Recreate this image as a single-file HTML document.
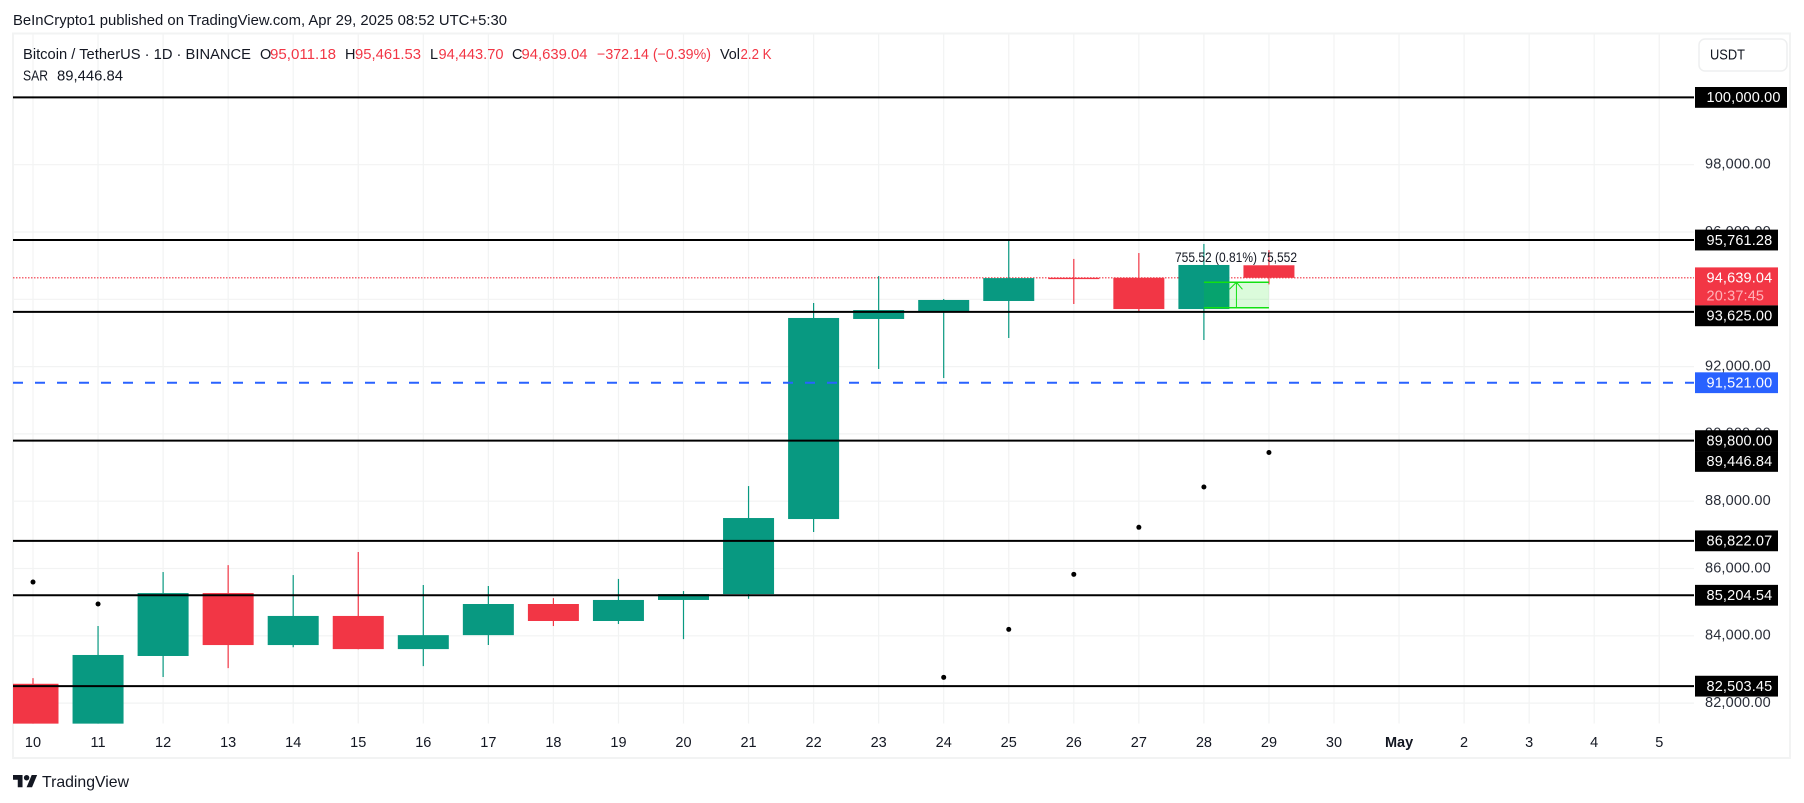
<!DOCTYPE html>
<html lang="en">
<head>
<meta charset="utf-8">
<title>Bitcoin / TetherUS chart</title>
<style>
html,body{margin:0;padding:0;background:#fff;width:1804px;height:803px;overflow:hidden}
svg{display:block;font-family:"Liberation Sans",sans-serif}
</style>
</head>
<body>
<svg id="chart" xmlns="http://www.w3.org/2000/svg" width="1804" height="803" viewBox="0 0 1804 803">
  <defs><clipPath id="plot-clip"><rect x="13" y="34" width="1681" height="689.6"/></clipPath></defs>
  <rect x="0" y="0" width="1804" height="803" fill="#ffffff"/>
  <rect x="13" y="33.5" width="1777" height="724.5" fill="none" stroke="#f2f3f3" stroke-width="2"/>
  <text x="13" y="25" font-size="14.5" fill="#131722" textLength="494" lengthAdjust="spacingAndGlyphs">BeInCrypto1 published on TradingView.com, Apr 29, 2025 08:52 UTC+5:30</text>
  <g id="grid"></g>
  <g id="price-ticks"></g>
  <g id="time-ticks"></g>
  <g clip-path="url(#plot-clip)">
    <g id="candles"></g>
    <g id="measure"></g>
    <g id="sar"></g>
    <g id="levels"></g>
  </g>
  <g id="price-labels"></g>
  <g font-size="14.5">
    <text x="23" y="59" fill="#131722" textLength="228" lengthAdjust="spacingAndGlyphs">Bitcoin / TetherUS · 1D · BINANCE</text>
    <text x="260" y="59" fill="#131722">O</text>
    <text x="270" y="59" fill="#f23645" textLength="66" lengthAdjust="spacingAndGlyphs">95,011.18</text>
    <text x="345" y="59" fill="#131722">H</text>
    <text x="355" y="59" fill="#f23645" textLength="66" lengthAdjust="spacingAndGlyphs">95,461.53</text>
    <text x="430" y="59" fill="#131722">L</text>
    <text x="438.5" y="59" fill="#f23645" textLength="65" lengthAdjust="spacingAndGlyphs">94,443.70</text>
    <text x="512" y="59" fill="#131722">C</text>
    <text x="521.5" y="59" fill="#f23645" textLength="66" lengthAdjust="spacingAndGlyphs">94,639.04</text>
    <text x="597" y="59" fill="#f23645" textLength="114" lengthAdjust="spacingAndGlyphs">−372.14 (−0.39%)</text>
    <text x="720" y="59" fill="#131722" textLength="20" lengthAdjust="spacingAndGlyphs">Vol</text>
    <text x="740.5" y="59" fill="#f23645" textLength="31" lengthAdjust="spacingAndGlyphs">2.2 K</text>
    <text x="23" y="80.5" fill="#131722" textLength="25" lengthAdjust="spacingAndGlyphs">SAR</text>
    <text x="57" y="80.5" fill="#131722" textLength="66" lengthAdjust="spacingAndGlyphs">89,446.84</text>
  </g>
  <g>
    <rect x="1699" y="39" width="88" height="32" rx="6" fill="#ffffff" stroke="#eeeff0" stroke-width="1.5"/>
    <text x="1710" y="59.5" font-size="14.5" fill="#131722" textLength="35" lengthAdjust="spacingAndGlyphs">USDT</text>
  </g>
  <g>
    <g transform="translate(13,775) scale(0.68)" fill="#131722">
      <path d="M14 18H7V7H0V0h14v18z"/><path d="M28 18h-8L27.5 0h8L28 18z"/><circle cx="20" cy="4" r="4"/>
    </g>
    <text x="42" y="787" font-size="16" fill="#131722" textLength="87" lengthAdjust="spacingAndGlyphs">TradingView</text>
  </g>
</svg>
<script>
const days = ["10","11","12","13","14","15","16","17","18","19","20","21","22","23","24","25","26","27","28","29","30","May","2","3","4","5"];
const opens  = [82574,79607,83400,85270,83725,84590,83605,84020,84945,84440,85065,85240,87470,93415,93650,93950,94640,94640,93710,95011.18];
const highs  = [82744,84290,85895,86100,85805,86490,85510,85480,85120,85690,85330,88450,93890,94690,94010,95760,95200,95375,95645,95461.53];
const lows   = [78456,78971,82775,83040,83660,83600,83100,83725,84290,84350,83900,85100,87085,91930,91660,92850,93860,93650,92790,94443.70];
const closes = [79607,83430,85270,83725,84590,83605,84020,84945,84440,85065,85240,87500,93445,93680,93980,94630,94600,93710,95020,94639.04];
const sarValues = [85597,84944,null,null,null,null,null,null,null,null,null,null,null,null,82766,84192,85827,87224,88421,89446.84];
const priceTicks = [98000,96000,94000,92000,90000,88000,86000,84000,82000];
const blackLevels = [100000,95761.28,93625,89800,86822.07,85204.54,82503.45];
const alertLevels = [91521];
const sarLabelValues = [89446.84];
const lastPrice = [94639.04];
const countdownText = ["20:37:45"];
const measureStartPrice = [93750];
const measureEndPrice = [94505.52];
const measureVolume = ["75,552"];
const measurePercent = ["0.81%"];

const NS = "http://www.w3.org/2000/svg";
function xAt(i){ return 33 + 65.05 * i; }
function yAt(v){ return 164.7 + (98000 - v) * 0.03365; }
function fmt(v){ return Number(v).toLocaleString("en-US",{minimumFractionDigits:2,maximumFractionDigits:2}); }
function make(parent, tag, props, text){
  const el = document.createElementNS(NS, tag);
  for (const k in props) el.setAttribute(k, props[k]);
  if (text !== undefined) el.textContent = text;
  parent.appendChild(el);
  return el;
}
const gridG = document.getElementById("grid");
const ticksG = document.getElementById("price-ticks");
const timeG = document.getElementById("time-ticks");
const candlesG = document.getElementById("candles");
const measureG = document.getElementById("measure");
const sarG = document.getElementById("sar");
const levelsG = document.getElementById("levels");
const labelsG = document.getElementById("price-labels");

days.forEach(function(d, i){
  const line = make(gridG, "line", {x1:xAt(i), x2:xAt(i), y1:34, y2:723.5, stroke:"#f2f3f3", "stroke-width":1.2});
  
  
  const t = make(timeG, "text", {x:xAt(i), y:747, "text-anchor":"middle", "font-size":14.5, fill:"#131722", "font-weight": d === "May" ? "bold" : "normal"}, d);
  
  
});

priceTicks.forEach(function(v){
  const line = make(gridG, "line", {x1:13, x2:1694, y1:yAt(v), y2:yAt(v), stroke:"#f2f3f3", "stroke-width":1.2});
  
  
  const t = make(ticksG, "text", {x:1705, y:yAt(v)+3.8, "font-size":14.5, "letter-spacing":0.15, fill:"#2a2e39"}, fmt(v));
  
  
});

const lastLine = make(candlesG, "line", {x1:13, x2:1694, y1:yAt(lastPrice[0]), y2:yAt(lastPrice[0]), stroke:"#f23645", "stroke-width":1.2, "stroke-dasharray":"1.5 1.5"});



opens.forEach(function(o, i){
  const c = closes[i];
  const col = c >= o ? "#089981" : "#f23645";
  const cx = xAt(i);
  const wick = make(candlesG, "line", {x1:cx, x2:cx, y1:yAt(highs[i]), y2:yAt(lows[i]), stroke:col, "stroke-width":1.2});
  
  
  const top = yAt(Math.max(o, c));
  const h = Math.max(Math.abs(yAt(o) - yAt(c)), 1.2);
  const body = make(candlesG, "rect", {x:cx-25.5, y:top, width:51, height:h, fill:col});
  
  
});

(function(){
  const mx1 = xAt(18), mx2 = xAt(19);
  const my1 = yAt(measureEndPrice[0]), my2 = yAt(measureStartPrice[0]);
  const mid = (mx1 + mx2) / 2;
  const box = make(measureG, "rect", {x:mx1, y:my1, width:mx2-mx1, height:my2-my1, fill:"#00e600", "fill-opacity":0.14});
  
  
  [my1, my2].forEach(function(yy){
    const edge = make(measureG, "line", {x1:mx1, x2:mx2, y1:yy, y2:yy, stroke:"#12e012", "stroke-width":1.5});
    
    
  });
  const arrow = make(measureG, "path", {d:"M"+mid+" "+my2+"V"+my1+"M"+(mid-7)+" "+(my1+7)+"L"+mid+" "+my1+"L"+(mid+6)+" "+(my1+7), fill:"none", stroke:"#12e012", "stroke-width":1});
  
  
  const diff = measureEndPrice[0] - measureStartPrice[0];
  const lab = make(measureG, "text", {x:1175, y:262, "font-size":13.5, fill:"#131722", textLength:122, lengthAdjust:"spacingAndGlyphs"}, diff.toFixed(2)+" ("+measurePercent[0]+") "+measureVolume[0]);
  
  
})();

sarValues.forEach(function(v, i){
  if (v === null) return;
  const dot = make(sarG, "circle", {cx:xAt(i), cy:yAt(v), r:2.5, fill:"#000000"});
  
  
});

blackLevels.forEach(function(v){
  const l = make(levelsG, "line", {x1:13, x2:1694, y1:yAt(v), y2:yAt(v), stroke:"#000000", "stroke-width":2});
  
  
});
alertLevels.forEach(function(v){
  const l = make(levelsG, "line", {x1:13, x2:1694, y1:yAt(v), y2:yAt(v), stroke:"#2962ff", "stroke-width":2, "stroke-dasharray":"10 12"});
  
  
});

const labelRows = [];
blackLevels.forEach(function(v){ labelRows.push({v:v, bg:"#000000", h:20.8, c:10.4}); });
alertLevels.forEach(function(v){ labelRows.push({v:v, bg:"#2962ff", h:20.8, c:10.4}); });
sarLabelValues.forEach(function(v){ labelRows.push({v:v, bg:"#000000", h:20.8, c:10.4}); });
lastPrice.forEach(function(v){ labelRows.push({v:v, bg:"#f23645", h:38, c:10.4, sub:countdownText[0]}); });
labelRows.sort(function(a,b){ return b.v - a.v; });
let prevBottom = 0;
labelRows.forEach(function(row){
  const s = fmt(row.v);
  const top = Math.max(yAt(row.v) - row.c, prevBottom);
  prevBottom = top + row.h;
  const w = s.length * 9 + 2;
  const r = make(labelsG, "rect", {x:1695, y:top, width:w, height:row.h, fill:row.bg});
  
  
  const t = make(labelsG, "text", {x:1706.5, y:top+15.2, "font-size":14.5, "letter-spacing":0.15, fill:"#ffffff"}, s);
  
  
  if (row.sub) {
    const sub = make(labelsG, "text", {x:1706.5, y:top+33, "font-size":14.5, "letter-spacing":0.15, fill:"#ffb3ba"}, row.sub);
    
    
  }
});
</script>
</body>
</html>
